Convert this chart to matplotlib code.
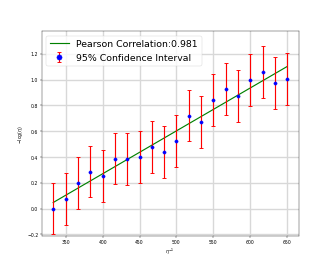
import numpy as np
import matplotlib
matplotlib.use("Agg")
import matplotlib.pyplot as plt

# data
inv_eta = [333, 350, 367, 383, 400, 417, 433, 450, 467, 483,
           500, 517, 533, 550, 567, 583, 600, 617, 633, 650]
neg_log = [0.0, 0.074, 0.198, 0.288, 0.251, 0.388, 0.385, 0.401, 0.478, 0.438,
           0.526, 0.722, 0.673, 0.844, 0.929, 0.873, 0.997, 1.06, 0.976, 1.005]
ci = [0.2] * len(inv_eta)
pearson = 0.981

x = np.array(inv_eta)
y = np.array(neg_log)
k, b = np.polyfit(x, y, 1)

fig, ax = plt.subplots(figsize=(10, 8), dpi=33.2)
ax.plot(x, k * x + b, 'g', lw=2.5, label="Pearson Correlation:" + str(pearson))
ax.errorbar(x, y, yerr=ci, fmt='bo', ecolor='r', elinewidth=2.5, capsize=5,
            capthick=2, ms=7, label="95% Confidence Interval")
ax.set_ylim(-0.21, 1.375)
ax.grid(True, color='#d8d8d8', lw=3)
ax.set_axisbelow(True)
ax.set_xlabel(r"$\eta^{-1}$")
ax.set_ylabel(r"$-\log(\eta)$")
ax.legend(loc='upper left', fontsize=20.5, markerscale=1.6)
fig.savefig("out.png", dpi=33.2)
